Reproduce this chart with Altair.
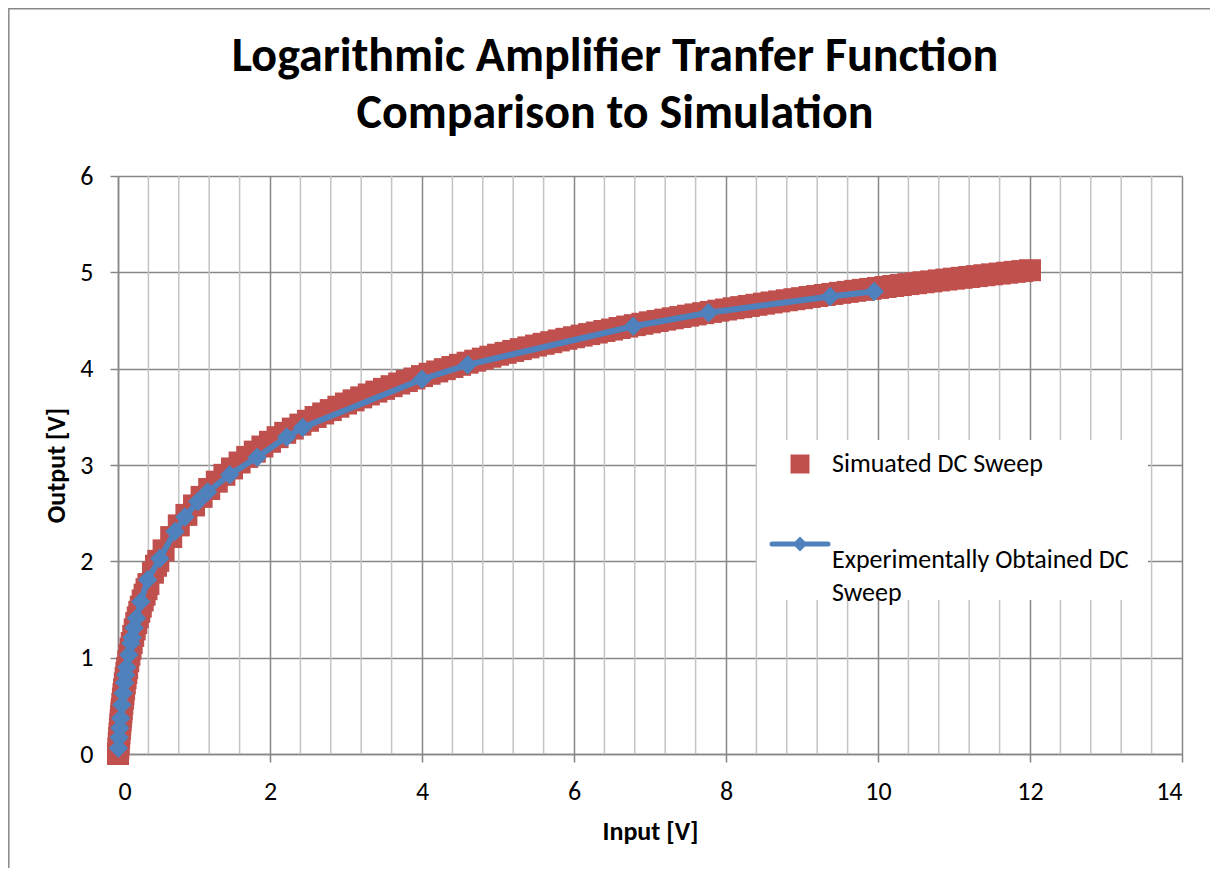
import altair as alt
import pandas as pd

# ---------------- data ----------------
sim_x = [0, 0.005, 0.01, 0.015, 0.02, 0.025, 0.03, 0.035, 0.04, 0.045, 0.05, 0.057, 0.065,
         0.072, 0.08, 0.09, 0.1, 0.11, 0.12, 0.135, 0.15, 0.165, 0.18, 0.2, 0.22, 0.24,
         0.26, 0.28, 0.3, 0.325, 0.35, 0.375, 0.4, 0.46, 0.5, 0.53, 0.6, 0.7, 0.8, 0.9,
         1.0, 1.1, 1.2, 1.3, 1.4, 1.5, 1.6, 1.7, 1.8, 1.9,
         2.0, 2.1, 2.2, 2.3, 2.4, 2.5, 2.6, 2.7, 2.8, 2.9,
         3.0, 3.1, 3.2, 3.3, 3.4, 3.5, 3.6, 3.7, 3.8, 3.9,
         4.0, 4.1, 4.2, 4.3, 4.4, 4.5, 4.6, 4.7, 4.8, 4.9,
         5.0, 5.1, 5.2, 5.3, 5.4, 5.5, 5.6, 5.7, 5.8, 5.9,
         6.0, 6.1, 6.2, 6.3, 6.4, 6.5, 6.6, 6.7, 6.8, 6.9,
         7.0, 7.1, 7.2, 7.3, 7.4, 7.5, 7.6, 7.7, 7.8, 7.9,
         8.0, 8.1, 8.2, 8.3, 8.4, 8.5, 8.6, 8.7, 8.8, 8.9,
         9.0, 9.1, 9.2, 9.3, 9.4, 9.5, 9.6, 9.7, 9.8, 9.9,
         10.0, 10.1, 10.2, 10.3, 10.4, 10.5, 10.6, 10.7, 10.8, 10.9,
         11.0, 11.1, 11.2, 11.3, 11.4, 11.5, 11.6, 11.7, 11.8, 11.9, 12.0]
sim_y = [0, 0.058, 0.113, 0.165, 0.214, 0.261, 0.306, 0.349, 0.391, 0.430, 0.469, 0.520,
         0.575, 0.622, 0.672, 0.732, 0.788, 0.841, 0.892, 0.963, 1.030, 1.093, 1.152,
         1.226, 1.294, 1.359, 1.419, 1.476, 1.530, 1.594, 1.654, 1.711, 1.764, 1.882,
         1.954, 2.005, 2.114, 2.252, 2.373, 2.482,
         2.580, 2.669, 2.751, 2.827, 2.898, 2.964, 3.026, 3.084, 3.139, 3.192,
         3.241, 3.289, 3.334, 3.378, 3.419, 3.459, 3.498, 3.535, 3.570, 3.605,
         3.638, 3.671, 3.702, 3.732, 3.762, 3.790, 3.818, 3.846, 3.872, 3.898,
         3.923, 3.947, 3.971, 3.995, 4.017, 4.040, 4.062, 4.083, 4.104, 4.124,
         4.145, 4.164, 4.184, 4.203, 4.221, 4.240, 4.258, 4.275, 4.293, 4.310,
         4.326, 4.343, 4.359, 4.375, 4.391, 4.406, 4.422, 4.437, 4.452, 4.466,
         4.481, 4.495, 4.509, 4.523, 4.536, 4.550, 4.563, 4.576, 4.589, 4.602,
         4.614, 4.627, 4.639, 4.651, 4.663, 4.675, 4.687, 4.698, 4.710, 4.721,
         4.732, 4.744, 4.754, 4.765, 4.776, 4.787, 4.797, 4.808, 4.818, 4.828,
         4.838, 4.848, 4.858, 4.868, 4.878, 4.887, 4.897, 4.906, 4.916, 4.925,
         4.934, 4.943, 4.952, 4.961, 4.970, 4.979, 4.987, 4.996, 5.005, 5.013, 5.022]

exp_x = [0.005, 0.014, 0.024, 0.035, 0.052, 0.069, 0.086, 0.100, 0.115, 0.142, 0.170, 0.186,
         0.213, 0.242, 0.30, 0.39, 0.55, 0.75, 0.88, 1.05, 1.18, 1.47, 1.83, 2.22, 2.43,
         4.0, 4.6, 6.78, 7.77, 9.37, 9.95]
exp_y = [0.06, 0.17, 0.27, 0.37, 0.51, 0.63, 0.74, 0.82, 0.90, 1.03, 1.15, 1.21,
         1.31, 1.41, 1.58, 1.81, 2.03, 2.31, 2.46, 2.62, 2.72, 2.90, 3.08, 3.29, 3.39,
         3.89, 4.04, 4.44, 4.58, 4.75, 4.80]

x_ticks = [0, 2, 4, 6, 8, 10, 12, 14]
y_ticks = [0, 1, 2, 3, 4, 5, 6]
x_minor = [round(i * 0.4, 1) for i in range(1, 35) if i % 5 != 0]

title_lines = ["Logarithmic Amplifier Tranfer Function", "Comparison to Simulation"]
legend_sim = "Simuated DC Sweep"
legend_exp = ["Experimentally Obtained DC", "Sweep"]

sim_df = pd.DataFrame({"x": sim_x, "y": sim_y})
exp_df = pd.DataFrame({"x": exp_x, "y": exp_y})
minor_df = pd.DataFrame({"x": x_minor})
one = pd.DataFrame({"a": [0]})

# ---------------- style ----------------
FONT = "Carlito, Lato, Liberation Sans, sans-serif"
RED = "#C0504D"
BLUE = "#4F81BD"
GRID = "#878787"
MINOR = "#C4C4C4"
W, H = 1064, 578

xscale = alt.Scale(domain=[0, 14], nice=False, zero=False)
yscale = alt.Scale(domain=[0, 6], nice=False, zero=False)

xaxis = alt.Axis(values=x_ticks, title="Input [V]", grid=True, gridColor=GRID, gridWidth=1.5,
                 domainColor=GRID, domainWidth=1.5, tickColor=GRID, tickWidth=1.5, tickSize=8,
                 labelFont=FONT, labelFontSize=26, labelColor="black", labelPadding=16,
                 titleFont=FONT, titleFontSize=26, titleFontWeight="bold", titleColor="black",
                 titlePadding=14, format="d")
yaxis = alt.Axis(values=y_ticks, title="Output [V]", grid=True, gridColor=GRID, gridWidth=1.5,
                 domainColor=GRID, domainWidth=1.5, tickColor=GRID, tickWidth=1.5, tickSize=8,
                 labelFont=FONT, labelFontSize=26, labelColor="black", labelPadding=17,
                 titleFont=FONT, titleFontSize=26, titleFontWeight="bold", titleColor="black",
                 titlePadding=10, format="d")

X = lambda: alt.X("x:Q", scale=xscale, axis=xaxis)
Y = lambda: alt.Y("y:Q", scale=yscale, axis=yaxis)

# outer chart border
border = alt.Chart(one).mark_rect(fill=None, stroke="#888888", strokeWidth=1.5).encode(
    x=alt.value(-109.2), x2=alt.value(1200), y=alt.value(-167.2), y2=alt.value(900))

minor = alt.Chart(minor_df).mark_rule(color=MINOR, strokeWidth=1.5).encode(
    x=alt.X("x:Q", scale=xscale, axis=xaxis), y=alt.value(0), y2=alt.value(H))

sim = alt.Chart(sim_df).mark_point(shape="square", filled=True, size=484, color=RED,
                                   opacity=1).encode(x=X(), y=Y())

exp_line = alt.Chart(exp_df).mark_line(color=BLUE, strokeWidth=6).encode(x=X(), y=Y())
exp_pts = alt.Chart(exp_df).mark_point(shape="diamond", filled=True, size=380, color=BLUE,
                                       opacity=1).encode(x=X(), y=Y())

# title
title = alt.Chart(one).mark_text(text=title_lines, font=FONT, fontSize=48, fontWeight="bold",
                                 align="center", baseline="alphabetic", lineHeight=57,
                                 color="black").encode(x=alt.value(497), y=alt.value(-105))

# legend
leg_bg = alt.Chart(one).mark_rect(fill="white").encode(
    x=alt.value(639), x2=alt.value(1030), y=alt.value(264), y2=alt.value(424))
leg_sq = alt.Chart(one).mark_point(shape="square", filled=True, size=361, color=RED,
                                   opacity=1).encode(x=alt.value(682), y=alt.value(288))
leg_sq_t = alt.Chart(one).mark_text(text=legend_sim, font=FONT, fontSize=26, align="left",
                                    baseline="middle", color="black").encode(
    x=alt.value(714), y=alt.value(288))
leg_ln = alt.Chart(one).mark_rule(color=BLUE, strokeWidth=5, strokeCap="round").encode(
    x=alt.value(654), x2=alt.value(710), y=alt.value(368))
leg_dm = alt.Chart(one).mark_point(shape="diamond", filled=True, size=220, color=BLUE,
                                   opacity=1).encode(x=alt.value(682), y=alt.value(368))
leg_ln_t = alt.Chart(one).mark_text(text=legend_exp, font=FONT, fontSize=26, align="left",
                                    baseline="middle", lineHeight=33, color="black").encode(
    x=alt.value(714), y=alt.value(384))

chart = alt.layer(
    border, minor, sim, exp_line, exp_pts, title,
    leg_bg, leg_sq, leg_sq_t, leg_ln, leg_dm, leg_ln_t
).properties(
    width=W, height=H,
    autosize=alt.AutoSizeParams(type="none"),
    padding={"left": 110, "top": 168, "right": 28, "bottom": 114},
    background="white",
).configure_view(stroke=None)

chart.save("out.html", embed_options={"renderer": "svg", "actions": False})
